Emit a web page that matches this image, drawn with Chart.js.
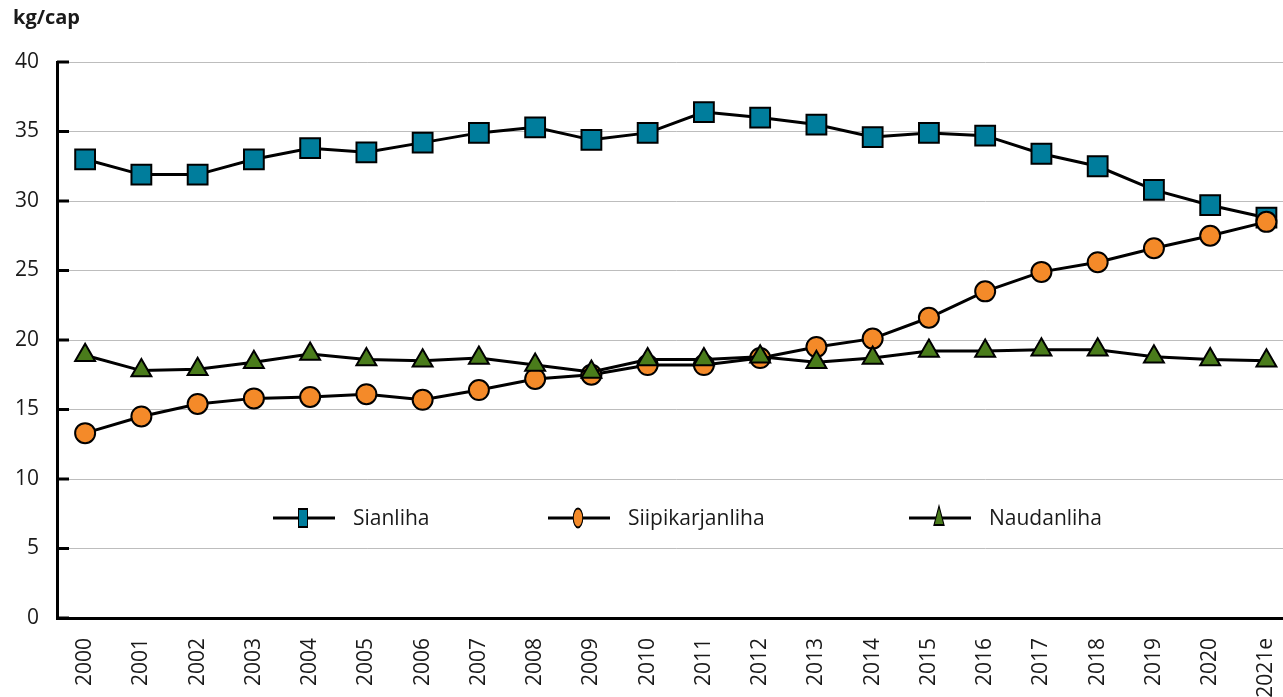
<!DOCTYPE html>
<html>
<head>
<meta charset="utf-8">
<script src="https://cdn.jsdelivr.net/npm/chart.js@4"></script>
<style>
  html, body { margin: 0; padding: 0; background: #fff; overflow: hidden; }
  #wrap { position: relative; width: 1283px; height: 697px; overflow: hidden; }
  #meatChart { display: block; }
</style>
</head>
<body>
<div id="wrap"><canvas id="meatChart" width="1312" height="697"></canvas></div>
<script>
const years = ['2000', '2001', '2002', '2003', '2004', '2005', '2006', '2007', '2008', '2009', '2010',
  '2011', '2012', '2013', '2014', '2015', '2016', '2017', '2018', '2019', '2020', '2021e']
const sianliha = [33.0, 31.9, 31.9, 33.0, 33.8, 33.5, 34.2, 34.9, 35.3, 34.4, 34.9,
  36.4, 36.0, 35.5, 34.6, 34.9, 34.7, 33.4, 32.5, 30.8, 29.7, 28.8]
const siipikarjanliha = [13.3, 14.5, 15.4, 15.8, 15.9, 16.1, 15.7, 16.4, 17.2, 17.5, 18.2,
  18.2, 18.7, 19.5, 20.1, 21.6, 23.5, 24.9, 25.6, 26.6, 27.5, 28.5]
const naudanliha = [18.9, 17.8, 17.9, 18.4, 19.0, 18.6, 18.5, 18.7, 18.2, 17.7, 18.6,
  18.6, 18.8, 18.4, 18.7, 19.2, 19.2, 19.3, 19.3, 18.8, 18.6, 18.5]
const yTicks = [0, 5, 10, 15, 20, 25, 30, 35, 40]

const fontFamily = '"Open Sans", "Noto Sans", sans-serif'
const textColor = '#1a1a1a'

// legend drawn inside the plot, like the original
const legendX = [216, 491, 852]   // swatch start, relative to chartArea.left
const legendLabelGap = 80
const legendInside = {
  id: 'legendInside',
  afterDatasetsDraw(chart) {
    const ctx = chart.ctx
    const area = chart.chartArea
    const y = chart.scales.y.getPixelForValue(7.2)
    ctx.save()
    chart.data.datasets.forEach((ds, i) => {
      const x0 = area.left + legendX[i]
      ctx.strokeStyle = '#000'
      ctx.lineWidth = 3
      ctx.beginPath()
      ctx.moveTo(x0, y)
      ctx.lineTo(x0 + 62, y)
      ctx.stroke()
      // squeezed marker
      ctx.save()
      ctx.translate(x0 + 30, y)
      ctx.scale(0.5, 1)
      ctx.fillStyle = ds.pointBackgroundColor
      ctx.strokeStyle = '#000'
      ctx.lineWidth = 2
      ctx.beginPath()
      if (ds.pointStyle === 'rect') {
        ctx.rect(-9, -9, 18, 18)
      } else if (ds.pointStyle === 'circle') {
        ctx.arc(0, 0, 9.5, 0, Math.PI * 2)
      } else {
        ctx.moveTo(0, -12)
        ctx.lineTo(10, 7)
        ctx.lineTo(-10, 7)
        ctx.closePath()
      }
      ctx.fill()
      ctx.stroke()
      ctx.restore()
      ctx.fillStyle = textColor
      ctx.font = '21px ' + fontFamily
      ctx.textBaseline = 'middle'
      ctx.textAlign = 'left'
      ctx.fillText(ds.label, x0 + legendLabelGap, y + 1)
    })
    ctx.restore()
  }
}

// short tick marks pointing into the plot
const innerTicks = {
  id: 'innerTicks',
  afterDraw(chart) {
    const ctx = chart.ctx
    const yScale = chart.scales.y
    const left = chart.chartArea.left
    ctx.save()
    ctx.strokeStyle = '#000'
    ctx.lineWidth = 3
    yTicks.forEach(v => {
      const py = yScale.getPixelForValue(v)
      ctx.beginPath()
      ctx.moveTo(left, py)
      ctx.lineTo(left + 12, py)
      ctx.stroke()
    })
    ctx.restore()
  }
}

const ctx = document.getElementById('meatChart').getContext('2d')

var meatChart = new Chart(ctx, {
  type: 'line',
  data: {
    labels: years,
    datasets: [{
      label: 'Sianliha',
      data: sianliha,
      order: 3,
      borderColor: '#000',
      borderWidth: 3,
      pointStyle: 'rect',
      pointRadius: 14,
      pointBackgroundColor: '#007d9c',
      pointBorderColor: '#000',
      pointBorderWidth: 2,
      tension: 0
    }, {
      label: 'Siipikarjanliha',
      data: siipikarjanliha,
      order: 2,
      borderColor: '#000',
      borderWidth: 3,
      pointStyle: 'circle',
      pointRadius: 10,
      pointBackgroundColor: '#f48a29',
      pointBorderColor: '#000',
      pointBorderWidth: 2,
      tension: 0
    }, {
      label: 'Naudanliha',
      data: naudanliha,
      order: 1,
      borderColor: '#000',
      borderWidth: 3,
      pointStyle: 'triangle',
      pointRadius: 11.5,
      pointBackgroundColor: '#4a7c1b',
      pointBorderColor: '#000',
      pointBorderWidth: 2,
      tension: 0
    }]
  },
  options: {
    responsive: false,
    animation: false,
    layout: { padding: { left: 13, right: 0, top: 0, bottom: 0 } },
    plugins: {
      legend: { display: false },
      tooltip: { enabled: false },
      title: {
        display: true,
        text: 'kg/cap',
        align: 'start',
        color: textColor,
        font: { family: fontFamily, size: 20, weight: 'bold' },
        padding: { top: 6, bottom: 32 }
      }
    },
    scales: {
      x: {
        offset: true,
        grid: { display: false, drawTicks: false },
        border: { display: true, color: '#000', width: 3 },
        ticks: {
          color: textColor,
          font: { family: fontFamily, size: 21 },
          minRotation: 90,
          maxRotation: 90,
          padding: 20,
          autoSkip: false
        },
        afterFit: scale => { scale.height = 79 }
      },
      y: {
        min: 0,
        max: 40,
        grid: { color: '#bdbdbd', lineWidth: 1, drawTicks: false },
        border: { display: true, color: '#000', width: 3 },
        ticks: {
          stepSize: 5,
          color: textColor,
          font: { family: fontFamily, size: 21 },
          padding: 18
        },
        afterFit: scale => { scale.width = 44 }
      }
    }
  },
  plugins: [legendInside, innerTicks]
})
</script>
</body>
</html>
